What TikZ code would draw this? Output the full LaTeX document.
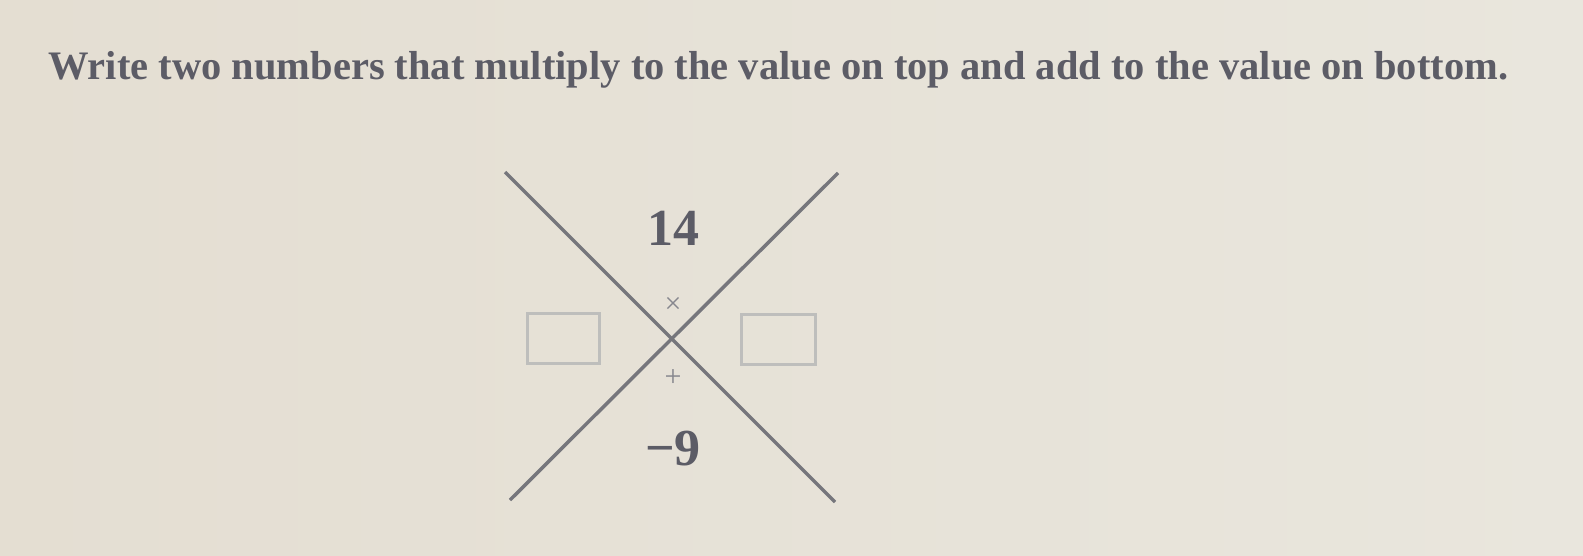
\documentclass[tikz,border=0pt]{standalone}
\usepackage{fontspec}
\setmainfont{Liberation Serif}
\definecolor{bgL}{RGB}{228,222,210}
\definecolor{bgM}{RGB}{237,236,231}
\definecolor{bgR}{RGB}{233,230,221}
\definecolor{ink}{RGB}{92,92,102}
\definecolor{linec}{RGB}{118,118,124}
\definecolor{boxc}{RGB}{190,190,188}
\definecolor{opc}{RGB}{135,135,142}
\begin{document}
\begin{tikzpicture}[x=1pt,y=-1pt,
  titletext/.style={inner sep=0pt, text=ink, anchor=base west},
  numtext/.style={inner sep=0pt, text=ink, anchor=base, font=\fontsize{52}{60}\selectfont\bfseries},
  optext/.style={inner sep=0pt, text=opc, anchor=center, font=\fontsize{30}{36}\selectfont},
  ansbox/.style={draw=boxc, line width=3pt, minimum width=72pt, minimum height=50pt, inner sep=0pt},
  xline/.style={draw=linec, line width=3.5pt}]
\useasboundingbox (0,0) rectangle (1583,555);
\shade[left color=bgL, middle color=bgM, right color=bgR] (0,0) rectangle (1583,555);
\node[titletext] (title) at (48,79) {\resizebox{1460pt}{!}{\bfseries Write two numbers that multiply to the value on top and add to the value on bottom.}};
\coordinate (a1) at (505,172);
\coordinate (a2) at (835,502);
\coordinate (b1) at (838,173);
\coordinate (b2) at (510,500);
\draw[xline] (a1) -- (a2);
\draw[xline] (b1) -- (b2);
\node[numtext] (top) at (673,245) {14};
\node[numtext] (bottom) at (673,465) {−9};
\node[optext] (times) at (673,305) {×};
\node[optext] (plus) at (673,378) {+};
\node[ansbox] (left) at (563,338) {};
\node[ansbox, minimum width=74pt] (right) at (778,339) {};
\end{tikzpicture}
\end{document}
